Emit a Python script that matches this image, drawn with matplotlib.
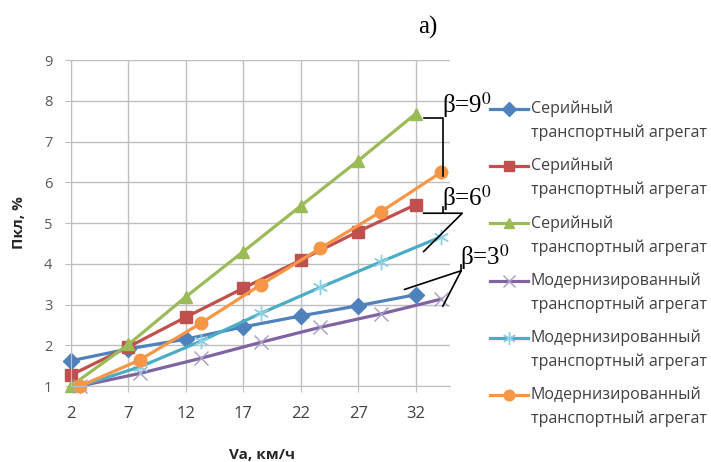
import numpy as np
import matplotlib
matplotlib.use("Agg")
import matplotlib.pyplot as plt
from matplotlib.lines import Line2D

plt.rcParams['font.family'] = ['Open Sans', 'DejaVu Sans']
plt.rcParams['mathtext.fontset'] = 'stix'

# speed, km/h (serial and modernized units were measured at shifted speeds)
va_serial = [2, 7, 12, 17, 22, 27, 32]
va_modern = [2.8, 8.0, 13.3, 18.5, 23.7, 29.0, 34.2]

# Пкл, %
serial_3 = [1.62, 1.91, 2.15, 2.45, 2.72, 2.97, 3.24]
serial_6 = [1.27, 1.96, 2.69, 3.40, 4.09, 4.79, 5.45]
serial_9 = [1.00, 2.02, 3.19, 4.30, 5.42, 6.53, 7.68]
modern_3 = [1.00, 1.31, 1.68, 2.07, 2.44, 2.77, 3.13]
modern_6 = [1.00, 1.47, 2.10, 2.78, 3.42, 4.05, 4.66]
modern_9 = [1.00, 1.64, 2.54, 3.48, 4.38, 5.28, 6.24]

lab_serial = ("Серийный", "транспортный агрегат")
lab_modern = ("Модернизированный", "транспортный агрегат")

series = [
    (va_serial, serial_3, lab_serial, '#4F81BD', dict(marker='D', ms=8)),
    (va_serial, serial_6, lab_serial, '#C0504D', dict(marker='s', ms=9)),
    (va_serial, serial_9, lab_serial, '#9BBB59', dict(marker='^', ms=9)),
    (va_modern, modern_3, lab_modern, '#8064A2', dict(marker='x', ms=10, mew=1.0, mec='#A99BC6')),
    (va_modern, modern_6, lab_modern, '#4BACC6', dict(marker=(6, 2, 0), ms=11, mew=1.0, mec='#8CCFE0')),
    (va_modern, modern_9, lab_modern, '#F79646', dict(marker='o', ms=9)),
]

fig = plt.figure(figsize=(7.11, 4.62), dpi=100)
ax = fig.add_axes([0.0999, 0.1645, 0.5331, 0.7056])

for xs, ys, lab, col, mk in series:
    ax.plot(xs, ys, color=col, lw=2.3, clip_on=False, **mk)

ax.set_xlim(2, 35)
ax.set_ylim(1, 9)
ax.set_xticks(va_serial)
ax.set_yticks(range(1, 10))
ax.grid(True, color='#BFBFBF', lw=1)
ax.set_axisbelow(True)
for s in ['top', 'right']:
    ax.spines[s].set_visible(False)
for s in ['left', 'bottom']:
    ax.spines[s].set_color('#BFBFBF')
ax.tick_params(axis='x', length=4.5, color='#BFBFBF', pad=10, labelsize=12, labelcolor='#404040')
ax.tick_params(axis='y', length=4.5, color='#BFBFBF', pad=9, labelsize=10.5, labelcolor='#595959')

ax.set_ylabel("Пкл, %", fontsize=11, fontweight='bold', color='#262626', va='center')
ax.yaxis.set_label_coords(-0.137, 0.5)
ax.set_xlabel("Va, км/ч", fontsize=11, fontweight='bold', color='#262626', va='center')
ax.xaxis.set_label_coords(0.504, -0.212)

# angle annotations with leader lines
serif = dict(family='Liberation Serif', fontsize=18, color='black')
lk = dict(color='black', lw=1.2, clip_on=False)
ax.plot([32.70, 34.35, 34.35], [7.58, 7.58, 6.15], **lk)
ax.text(34.26, 7.71, "β=9$^{0}$", va='baseline', ha='left', **serif)

ax.plot([34.35, 34.35], [5.39, 5.24], **lk)
ax.plot([32.70, 36.06, 32.70], [5.24, 5.24, 4.30], **lk)
ax.text(34.26, 5.42, "β=6$^{0}$", va='baseline', ha='left', **serif)

ax.plot([35.97, 35.97], [3.97, 3.83], **lk)
ax.plot([31.04, 35.97, 34.37], [3.37, 3.83, 2.96], **lk)
ax.text(35.88, 3.97, "β=3$^{0}$", va='baseline', ha='left', **serif)

fig.text(428 / 711, 1 - 27 / 462, "а)", ha='center', va='center',
         family='Liberation Serif', fontsize=18)

# legend drawn to the right of the plot, handle aligned with first line
W, H = 711, 462
for i, (xs, ys, lab, col, mk) in enumerate(series):
    y1 = 109 + 57.2 * i
    mk2 = dict(mk)
    mk2['ms'] = mk['ms'] * 0.85
    fig.add_artist(Line2D(np.array([490, 509, 528]) / W, [1 - y1 / H] * 3,
                          color=col, lw=2.3, markevery=[1], **mk2))
    fig.text(531 / W, 1 - y1 / H, lab[0], fontsize=11.5, color='#404040', va='center')
    fig.text(531 / W, 1 - (y1 + 24) / H, lab[1], fontsize=11.5, color='#404040', va='center')

fig.savefig("out.png", dpi=100)
